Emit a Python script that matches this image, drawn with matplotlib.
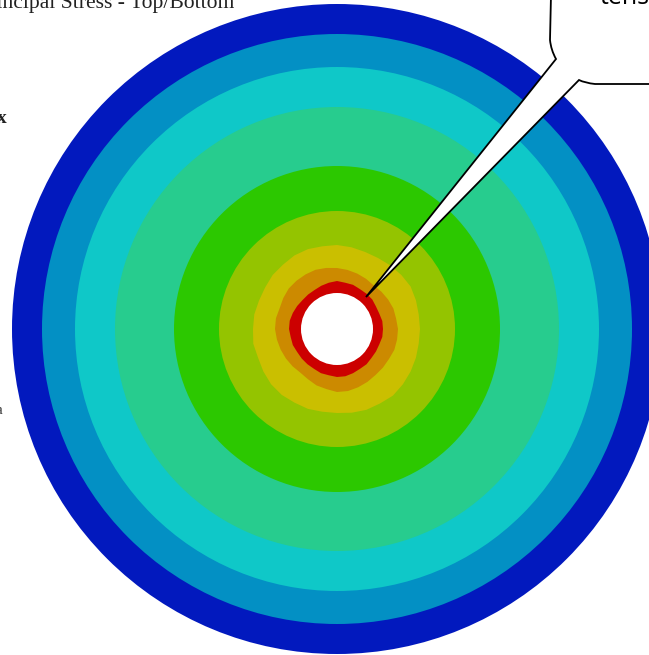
import numpy as np
from matplotlib import pyplot as plt
from matplotlib.patches import Circle, PathPatch
from matplotlib.path import Path

# contour bands (radius in px around the hole)
smooth_radii = [325, 295, 262, 222, 163, 118]
smooth_colors = ['#0219BE', '#0390C4', '#0FC8C8', '#27CC8E', '#2CC800', '#94C400']

# inner bands are jagged, radius every 10 degrees
angles = np.arange(0, 360, 10)
yellow_radii = [83, 83, 84, 85, 84, 83, 82, 82, 83, 84, 84, 85, 85, 84, 84, 83, 83, 84,
                84, 85, 84, 85, 86, 86, 85, 85, 84, 84, 85, 86, 86, 87, 86, 85, 84, 83]
orange_radii = [61, 60, 60, 59, 58, 57, 58, 59, 60, 61, 62, 63, 63, 63, 63, 62, 61, 62,
                62, 61, 60, 59, 58, 57, 58, 60, 61, 63, 63, 62, 61, 60, 60, 60, 61, 61]
red_radii = [46, 46, 45, 45, 46, 46, 46, 47, 47, 48, 47, 46, 45, 45, 45, 46, 47, 48,
             48, 47, 47, 46, 46, 46, 46, 47, 47, 48, 48, 47, 46, 46, 45, 45, 45, 46]
hole_radius = 36

center = (337, 329)

fig = plt.figure(figsize=(6.49, 6.55), dpi=100)
ax = fig.add_axes([0, 0, 1, 1])
ax.set_xlim(0, 649)
ax.set_ylim(655, 0)
ax.axis('off')

for r, c in zip(smooth_radii, smooth_colors):
    ax.add_patch(Circle(center, r, color=c, lw=0))

for radii, c in [(yellow_radii, '#CABF00'), (orange_radii, '#CC8A00'), (red_radii, '#CC0000')]:
    xs = center[0] + np.array(radii) * np.cos(np.radians(angles))
    ys = center[1] - np.array(radii) * np.sin(np.radians(angles))
    ax.fill(xs, ys, color=c, lw=0)

ax.add_patch(Circle(center, hole_radius, color='white', lw=0))

# speech bubble running off the top right corner
verts = [(551, -5), (550, 40), (551, 50), (556, 59), (366, 297), (579, 80), (585, 83), (595, 84), (655, 84), (655, -5), (551, -5)]
codes = [Path.MOVETO, Path.LINETO, Path.CURVE3, Path.CURVE3, Path.LINETO, Path.LINETO,
         Path.CURVE3, Path.CURVE3, Path.LINETO, Path.LINETO, Path.CLOSEPOLY]
ax.add_patch(PathPatch(Path(verts, codes), facecolor='white', edgecolor='black', lw=1.3, clip_on=True))

ax.text(600, 4, 'tens', fontsize=18, family='Open Sans', weight='medium', color='black', va='baseline', ha='left')
ax.text(-23, 8, 'Principal Stress - Top/Bottom', fontsize=15.6, family='Liberation Serif', color='#222222', va='baseline')
ax.text(-3, 123, 'x', fontsize=14, family='Liberation Serif', weight='bold', color='#222222')
ax.text(-4, 414, 'a', fontsize=11, family='Liberation Serif', color='#333333')

fig.savefig('out.png', dpi=100)
